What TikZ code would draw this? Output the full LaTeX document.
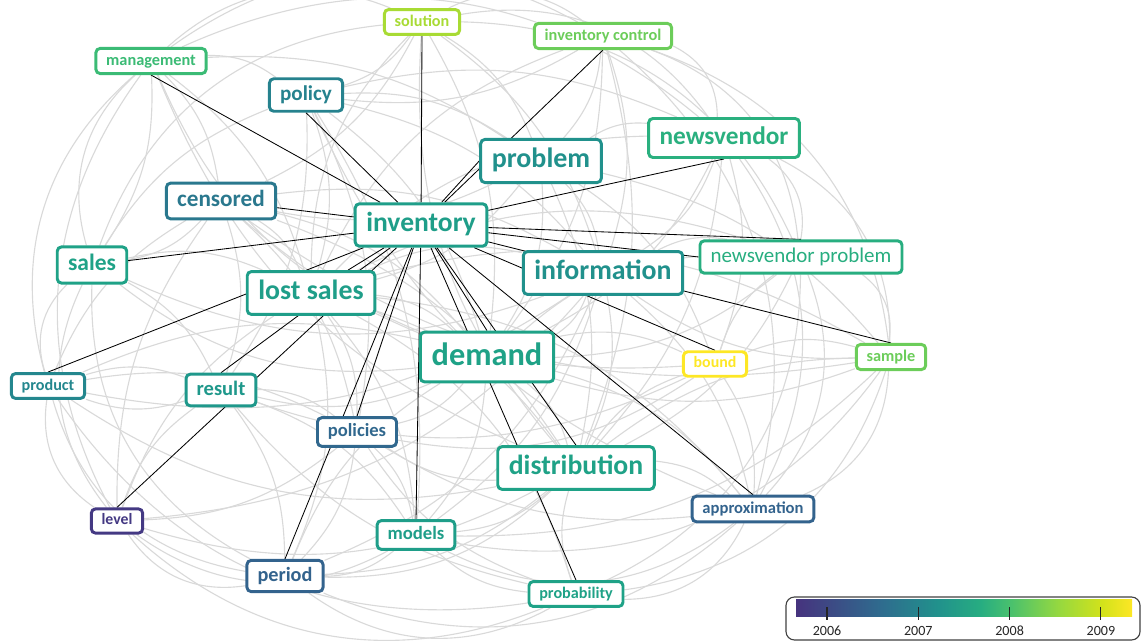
\documentclass[tikz,border=0pt]{standalone}
\usepackage{fontspec}
\setmainfont{Carlito}
\usetikzlibrary{backgrounds}

\definecolor{cLevel}{HTML}{443983}
\definecolor{cBlue}{HTML}{33638D}
\definecolor{cPols}{HTML}{31688E}
\definecolor{cCens}{HTML}{2A788E}
\definecolor{cPolicy}{HTML}{26828E}
\definecolor{cProd}{HTML}{24878E}
\definecolor{cProb}{HTML}{21918C}
\definecolor{cRes}{HTML}{1F988B}
\definecolor{cInv}{HTML}{1F9E89}
\definecolor{cDem}{HTML}{1FA287}
\definecolor{cNvp}{HTML}{28AE80}
\definecolor{cNv}{HTML}{2AB07F}
\definecolor{cMg}{HTML}{3BBB75}
\definecolor{cIc}{HTML}{6CCD5A}
\definecolor{cSol}{HTML}{A8DB34}
\definecolor{cBound}{HTML}{FDE725}

% colour bar
\definecolor{vA}{HTML}{46337E}
\definecolor{vB}{HTML}{2F6B8E}
\definecolor{vC}{HTML}{21918C}
\definecolor{vD}{HTML}{27AD81}
\definecolor{vE}{HTML}{4AC16D}
\definecolor{vF}{HTML}{95D840}
\definecolor{vG}{HTML}{D2E21B}
\definecolor{vH}{HTML}{FDE725}
\pgfdeclarehorizontalshading{viridis}{100bp}{color(0bp)=(vA); color(25bp)=(vA); color(37.5bp)=(vB); color(46bp)=(vC); color(52.5bp)=(vD); color(57bp)=(vE); color(64bp)=(vF); color(70.5bp)=(vG); color(75bp)=(vH); color(100bp)=(vH)}

\newcommand\kwstrut{\vrule height .72em depth .22em width 0pt}
\tikzset{
  kw/.style 2 args={draw=#1, text=#1, fill=white, line width=2.1pt, rounded corners=3pt,
    font=\bfseries\fontsize{#2}{#2}\selectfont, inner xsep=6.5pt+0.07*#2pt, inner ysep=0.3*#2pt,
    execute at begin node=\kwstrut},
  kwreg/.style 2 args={kw={#1}{#2}, font=\fontsize{#2}{#2}\selectfont},
  link/.style={draw=black!15, line width=0.8pt},
  tie/.style={draw=black, line width=0.6pt},
  yearlab/.style={font=\fontsize{10}{10}\selectfont, text=black!85}
}

\begin{document}
\begin{tikzpicture}[x=0.025cm, y=-0.025cm]
  \useasboundingbox (0,0) rectangle (1142,642);

  \node[kw={cSol}{11.5}] (sol) at (422,22) {solution};
  \node[kw={cIc}{11.6}] (invctrl) at (603,36) {inventory control};
  \node[kw={cMg}{11.6}] (mgmt) at (151,61) {management};
  \node[kw={cPolicy}{15}] (policy) at (306,95) {policy};
  \node[kw={cProb}{19.9}] (problem) at (541,161) {problem};
  \node[kw={cNv}{18}] (nvendor) at (724,138) {newsvendor};
  \node[kw={cCens}{16.5}] (censored) at (221,201) {censored};
  \node[kw={cInv}{19.6}] (inv) at (421,225) {inventory};
  \node[kw={cDem}{16.7}] (sales) at (92,265) {sales};
  \node[kwreg={cNvp}{14.9}] (nvprob) at (801,257) {newsvendor problem};
  \node[kw={cProb}{19.8}] (info) at (603,273) {information};
  \node[kw={cInv}{19.8}] (lost) at (311,293) {lost sales};
  \node[kw={cDem}{23}] (demand) at (487,357) {demand};
  \node[kw={cBound}{11.3}] (bound) at (715,364) {bound};
  \node[kw={cIc}{11.6}] (sample) at (891,357) {sample};
  \node[kw={cProd}{11.5}] (product) at (48,386) {product};
  \node[kw={cRes}{14.6}] (result) at (221,390) {result};
  \node[kw={cPols}{13.2}] (policies) at (357,432) {policies};
  \node[kw={cDem}{19.7}] (distr) at (576,468) {distribution};
  \node[kw={cBlue}{11.8}] (approx) at (753,509) {approximation};
  \node[kw={cLevel}{11.2}] (level) at (117,521) {level};
  \node[kw={cInv}{13.3}] (models) at (416,535) {models};
  \node[kw={cBlue}{14.4}] (period) at (285,576) {period};
  \node[kw={cDem}{11.5}] (prob) at (576,594) {probability};

  \begin{pgfonlayer}{background}
    % outer arcs
    \foreach \a/\b in {mgmt/sol, mgmt/invctrl, mgmt/nvendor, sol/invctrl, sol/nvendor, sol/nvprob,
      invctrl/nvendor, invctrl/nvprob, invctrl/sample, nvendor/sample, nvendor/approx, nvprob/sample,
      nvprob/approx, nvprob/prob, sample/approx, sample/prob, approx/prob, approx/period, prob/period,
      prob/level, models/level, period/level, period/product, level/product, level/sales, product/sales,
      product/mgmt, sales/mgmt, level/mgmt, sales/sol, period/sales, prob/product, approx/models,
      sample/models, nvendor/nvprob, invctrl/approx}
      \draw[link] (\a) to[bend left=32] (\b);
    % inner arcs
    \foreach \a/\b in {policy/problem, policy/nvendor, policy/info, policy/demand, policy/lost,
      policy/result, policy/policies, policy/models, problem/nvendor, problem/info, problem/demand,
      problem/distr, problem/bound, problem/lost, problem/censored, problem/sample, censored/lost,
      censored/demand, censored/info, censored/sales, censored/result, censored/policies, censored/distr,
      lost/demand, lost/policies, lost/models, lost/distr, lost/info, lost/period, info/demand,
      info/distr, info/approx, info/nvprob, info/models, demand/distr, demand/bound, demand/policies,
      demand/models, demand/result, demand/approx, demand/nvprob, distr/bound, distr/approx,
      distr/models, distr/policies, distr/sample, distr/period, result/policies, result/models,
      result/period, result/product, policies/models, policies/period, policies/level, bound/sample,
      bound/approx, bound/nvprob, mgmt/policy, mgmt/censored, mgmt/lost, mgmt/problem, mgmt/sales,
      sol/policy, sol/problem, sol/censored, sol/demand, sol/info, invctrl/problem, invctrl/info,
      invctrl/demand, invctrl/policy, invctrl/distr, nvendor/info, nvendor/demand, nvendor/bound,
      nvendor/distr, nvprob/demand, nvprob/distr, sample/demand, sample/info, approx/policies,
      prob/distr, prob/models, prob/policies, prob/result, models/period, level/result, level/lost,
      level/censored, product/censored, product/result, product/policies, product/demand, sales/lost,
      sales/result, sales/policy, period/demand}
      \draw[link] (\a) to[bend left=18] (\b);
    \foreach \a/\b in {mgmt/demand, sol/lost, invctrl/lost, nvendor/lost, nvprob/lost, sample/lost,
      approx/lost, prob/lost, period/info, level/info, product/info, sales/info, mgmt/distr, sol/distr,
      policy/approx, censored/bound, censored/sample, result/bound, policies/bound, models/sample,
      sales/demand, product/distr, level/distr, period/distr}
      \draw[link] (\a) to[bend right=22] (\b);

    % links of inventory
    \foreach \b in {mgmt.south, policy.south, sol.south, invctrl.south, problem.west, nvendor.south,
      censored, sales, nvprob.north, nvprob.west, bound.north, sample.north, lost, product.north,
      result.north, level.north, policies.north, period.north, models.north, demand.north,
      distr.north, prob.north, approx.north}
      \draw[tie] (inv) -- (\b);
  \end{pgfonlayer}

  % year scale
  \draw[rounded corners=6pt, draw=black!75, line width=0.8pt] (786,597) rectangle (1140,640);
  \shade[shading=viridis] (796,599) rectangle (1132,616);
  \foreach \yr [count=\i from 0] in {2006,2007,2008,2009} {
    \draw[line width=0.8pt, black!85] ({827+91.3*\i},607) -- ++(0,13);
    \node[yearlab] (yr\yr) at ({827+91.3*\i},631) {\yr};
  }
\end{tikzpicture}
\end{document}
